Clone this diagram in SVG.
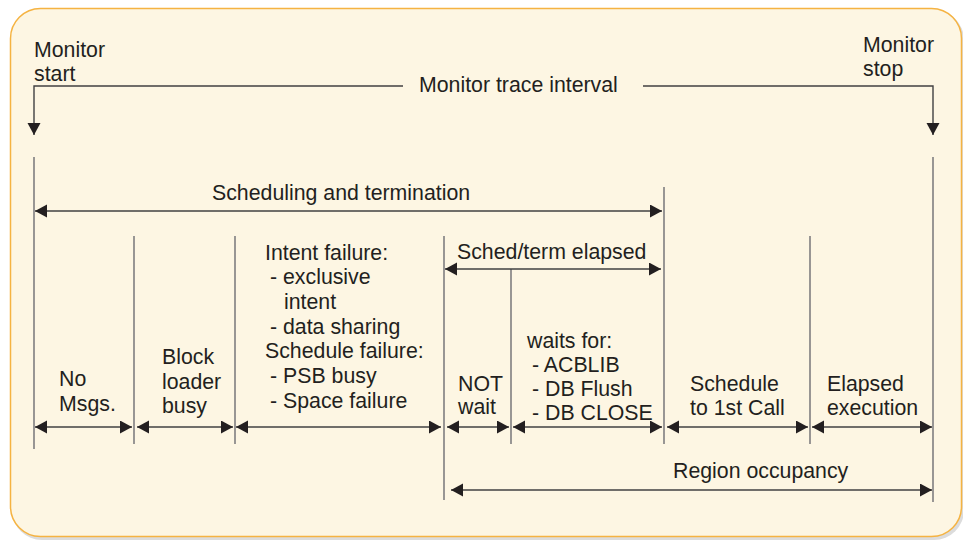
<svg xmlns="http://www.w3.org/2000/svg" width="963" height="541" viewBox="0 0 963 541">
  <defs>
    <marker id="ah" markerUnits="userSpaceOnUse" markerWidth="13" markerHeight="14" refX="12" refY="6.5" orient="auto-start-reverse" viewBox="0 0 13 14">
      <path d="M0,0 L12,6.5 L0,13 z" fill="#231f20"/>
    </marker>
    <style>
      .t { font-family: "Liberation Sans", Arial, Helvetica, sans-serif; font-size: 21.3px; fill: #231f20; }
      .v { stroke: #6d6e71; stroke-width: 1.4; fill: none; }
      .a { stroke: #414042; stroke-width: 1.4; fill: none; marker-start: url(#ah); marker-end: url(#ah); }
      .d { stroke: #414042; stroke-width: 1.4; fill: none; marker-end: url(#ah); }
    </style>
  </defs>

  <rect x="0" y="0" width="963" height="541" fill="#ffffff"/>
  <rect x="12" y="10" width="952" height="530" rx="30" fill="#dcdcdc"/>
  <rect id="frame" x="10.5" y="8.5" width="951" height="528" rx="30" fill="#fdf6e3" stroke="#f5b342" stroke-width="1.5"/>

  <g id="connectors">
    <!-- monitor trace interval bracket -->
    <path class="d" d="M403,86 H34 V135"/>
    <path class="d" d="M643,86 H933 V135"/>
    <!-- vertical boundaries -->
    <line class="v" x1="34" y1="157" x2="34" y2="449"/>
    <line class="v" x1="134" y1="236" x2="134" y2="444"/>
    <line class="v" x1="235" y1="236" x2="235" y2="444"/>
    <line class="v" x1="444" y1="236" x2="444" y2="500"/>
    <line class="v" x1="511" y1="269" x2="511" y2="444"/>
    <line class="v" x1="664" y1="187" x2="664" y2="444"/>
    <line class="v" x1="810" y1="236" x2="810" y2="444"/>
    <line class="v" x1="933" y1="157" x2="933" y2="502"/>
    <!-- span arrows -->
    <line class="a" x1="35" y1="211" x2="662" y2="211"/>
    <line class="a" x1="445" y1="269" x2="661" y2="269"/>
    <line class="a" x1="35" y1="427" x2="132" y2="427"/>
    <line class="a" x1="137" y1="427" x2="233" y2="427"/>
    <line class="a" x1="236" y1="427" x2="441" y2="427"/>
    <line class="a" x1="447" y1="427" x2="509" y2="427"/>
    <line class="a" x1="513" y1="427" x2="662" y2="427"/>
    <line class="a" x1="667" y1="427" x2="808" y2="427"/>
    <line class="a" x1="812" y1="427" x2="932" y2="427"/>
    <line class="a" x1="451" y1="490" x2="932" y2="490"/>
  </g>

  <g id="monitor-start">
    <text class="t" x="34" y="57">Monitor</text>
    <text class="t" x="34" y="81">start</text>
  </g>
  <g id="monitor-stop">
    <text class="t" x="863" y="52">Monitor</text>
    <text class="t" x="863" y="76">stop</text>
  </g>
  <g id="monitor-trace-interval">
    <text class="t" x="419" y="92">Monitor trace interval</text>
  </g>
  <g id="scheduling-termination">
    <text class="t" x="212" y="200">Scheduling and termination</text>
  </g>
  <g id="sched-term-elapsed">
    <text class="t" x="457" y="259">Sched/term elapsed</text>
  </g>
  <g id="no-msgs">
    <text class="t" x="59" y="386">No</text>
    <text class="t" x="59" y="411">Msgs.</text>
  </g>
  <g id="block-loader-busy">
    <text class="t" x="162" y="364">Block</text>
    <text class="t" x="162" y="389">loader</text>
    <text class="t" x="162" y="413">busy</text>
  </g>
  <g id="intent-schedule-failure">
    <text class="t" x="265" y="260">Intent failure:</text>
    <text class="t" x="270" y="284">- exclusive</text>
    <text class="t" x="284" y="309">intent</text>
    <text class="t" x="270" y="334">- data sharing</text>
    <text class="t" x="265" y="358">Schedule failure:</text>
    <text class="t" x="270" y="383">- PSB busy</text>
    <text class="t" x="270" y="408">- Space failure</text>
  </g>
  <g id="not-wait">
    <text class="t" x="458" y="391">NOT</text>
    <text class="t" x="458" y="414">wait</text>
  </g>
  <g id="waits-for">
    <text class="t" x="527" y="348">waits for:</text>
    <text class="t" x="532" y="372">- ACBLIB</text>
    <text class="t" x="532" y="396">- DB Flush</text>
    <text class="t" x="532" y="420">- DB CLOSE</text>
  </g>
  <g id="schedule-to-first-call">
    <text class="t" x="690" y="391">Schedule</text>
    <text class="t" x="690" y="415">to 1st Call</text>
  </g>
  <g id="elapsed-execution">
    <text class="t" x="827" y="391">Elapsed</text>
    <text class="t" x="827" y="415">execution</text>
  </g>
  <g id="region-occupancy">
    <text class="t" x="673" y="478">Region occupancy</text>
  </g>
</svg>
